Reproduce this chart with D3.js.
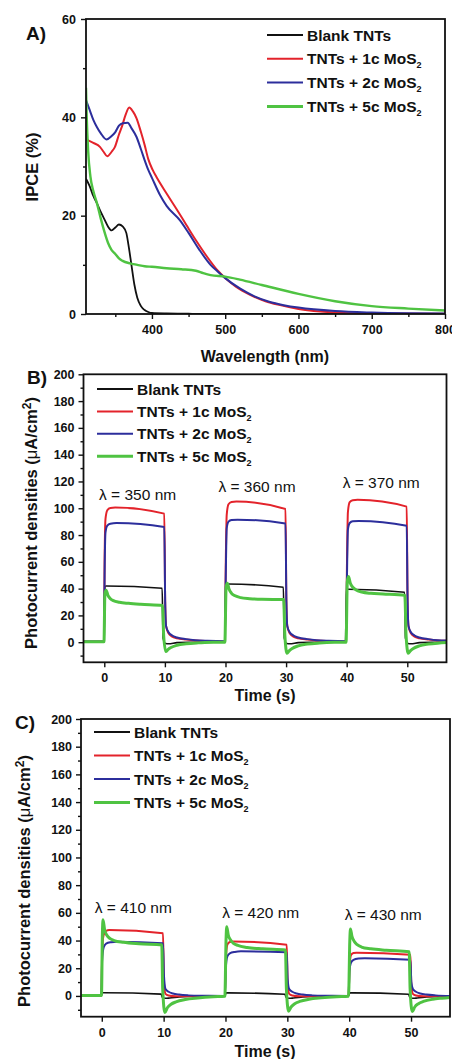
<!DOCTYPE html>
<html>
<head>
<meta charset="utf-8">
<script src="https://cdnjs.cloudflare.com/ajax/libs/d3/7.8.5/d3.min.js"></script>
<style>
  body { margin: 0; background: #fff; }
  svg { display: block; }
  text { font-family: Arial, "Liberation Sans", sans-serif; fill: #111; }
</style>
</head>
<body>
<div id="chart"></div>
<script>
// legend names (subscript 2 added when drawn) and colours
var seriesNames = ["Blank TNTs", "TNTs + 1c MoS", "TNTs + 2c MoS", "TNTs + 5c MoS"];
var seriesColors = ["#111111", "#e3232b", "#2c2e9c", "#4fc342"];

// A) IPCE (%) vs wavelength (nm)
var ipceBlank = [[310,27.5],[315,26],[320,24],[325,22.5],[330,20.8],[335,19.3],[340,17.8],[345,17],[350,17.6],[355,18.2],[360,17.8],[365,16.5],[368,14],[372,10],[376,6],[380,3.3],[385,1.6],[390,0.8],[395,0.4],[400,0.2],[420,0.1],[450,0.05],[500,0],[800,0]];
var ipce1c = [[310,35.5],[320,34.8],[329,34],[334,33],[339,32.1],[345,33],[349.5,34],[355,36.5],[359,38.1],[364,40.5],[369,42],[374,41.2],[379,39.8],[385,37],[390,34.4],[395,31.5],[401,29.3],[406,27.9],[420,24.5],[435,21],[447,18.1],[460,15],[475,11.7],[490,8.8],[500,7.3],[515,5.5],[534,3.9],[555,2.6],[575,1.8],[600,1],[650,0.3],[700,0.1],[800,0.05]];
var ipce2c = [[310,43.5],[315,41.5],[320,39.5],[325,38],[330,36.8],[338,35.5],[345,36.2],[350,37],[355,38.3],[360,38.8],[367,38.9],[372,37.8],[379,36],[385,33.5],[390,31.3],[395,29.3],[400,27.7],[411,24.2],[420,22],[438,19.1],[450,16.5],[465,13],[480,10],[490,8.6],[500,7.3],[520,5.2],[540,3.6],[560,2.5],[580,1.8],[600,1.3],[650,0.6],[700,0.3],[750,0.15],[800,0.1]];
var ipce5c = [[310,46],[311,40],[313,33],[316,28],[320,25],[325,22.5],[330,19.5],[335,16.8],[340,14.5],[345,13],[350,12.2],[355,11.3],[360,10.8],[370,10.3],[380,10],[390,9.7],[400,9.6],[420,9.3],[440,9.1],[460,8.8],[470,8.3],[480,7.9],[500,7.6],[520,7],[550,5.9],[600,4.1],[650,2.6],[700,1.6],[750,1.1],[800,0.7]];

// B) photocurrent (µA/cm2) vs time (s), 350/360/370 nm
var photoB_blank = [[-3.5,0.3],[-0.05,0.3],[0.1,41.5],[0.3,42],[9.55,40.3],[9.7,3],[10.1,-1],[10.6,-1.2],[12,-0.3],[14,0],[19.9,0],[20.05,43.3],[20.3,43.4],[29.55,41],[29.7,3],[30.1,-1],[30.6,-1.2],[32,-0.3],[34,0],[39.8,0],[39.95,39.5],[40.2,39.5],[49.55,37.3],[49.7,3],[50.1,-1],[50.6,-1.2],[52,-0.3],[54,0],[56.5,0]];
var photoB_1c = [[-3.5,0.5],[-0.05,0.5],[0.05,60],[0.2,92],[0.5,98.5],[1,100.2],[1.8,100.5],[9.9,96],[10.05,30],[10.2,12],[10.6,6.7],[11.2,4.2],[12,3],[13.5,2],[15,1.3],[17,0.9],[19.9,0.6],[20.05,60],[20.2,95],[20.5,103],[21,104.6],[21.8,105],[29.9,99.5],[30.05,30],[30.2,12],[30.6,6.7],[31.2,4.2],[32,3],[33.5,2],[35,1.3],[37,0.9],[39.9,0.6],[40.05,60],[40.2,97],[40.5,104.5],[41,106],[41.8,106.3],[49.9,101.2],[50.05,30],[50.2,12],[50.6,6.7],[51.2,4.2],[52,3],[53.5,2],[55,1.3],[56.5,1]];
var photoB_2c = [[-3.5,0.5],[-0.05,0.5],[0.05,50],[0.2,82],[0.5,87],[1,88.4],[2,89],[9.9,86],[10.05,30],[10.2,12],[10.6,7.5],[11.2,5],[12,3.5],[13.5,2.3],[15,1.5],[17,1],[19.9,0.7],[20.05,50],[20.2,85],[20.5,90],[21,91.2],[22,91.5],[29.9,88.6],[30.05,30],[30.2,12],[30.6,7.5],[31.2,5],[32,3.5],[33.5,2.3],[35,1.5],[37,1],[39.9,0.7],[40.05,50],[40.2,84],[40.5,89],[41,90.3],[42,90.5],[49.9,87],[50.05,30],[50.2,12],[50.6,7.5],[51.2,5],[52,3.5],[53.5,2.3],[55,1.5],[56.5,1.2]];
var photoB_5c = [[-3.5,0.3],[-0.05,0.3],[0.1,36],[0.3,38.8],[0.6,35],[1,32.5],[1.5,31],[2.5,29.8],[4,29],[6,28.3],[9.6,27.5],[9.8,5],[10.15,-7],[10.5,-5.5],[11,-4],[12,-2.3],[13.5,-1.2],[15.5,-0.5],[18,-0.1],[19.9,0],[20.1,41],[20.3,44],[20.6,39.5],[21,36.5],[21.5,34.8],[22.5,33.3],[24,32.5],[26,32],[29.6,31.8],[29.8,5],[30.15,-8.2],[30.5,-6.5],[31,-4.7],[32,-2.7],[33.5,-1.4],[35.5,-0.6],[38,-0.1],[39.9,0],[40.1,45],[40.3,49],[40.6,44],[41,41],[41.5,39.2],[42.5,37.5],[44,36.5],[46,36],[49.6,35],[49.8,5],[50.15,-8.2],[50.5,-6.5],[51,-4.7],[52,-2.7],[53.5,-1.4],[55,-0.7],[56.5,-0.3]];
var lambdaB = ["\u03bb = 350 nm", "\u03bb = 360 nm", "\u03bb = 370 nm"];
var lambdaB_t = [5.5, 25.2, 45.7];
var lambdaB_v = [110, 116, 119];

// C) photocurrent (µA/cm2) vs time (s), 410/420/430 nm
var photoC_blank = [[-3.5,0.3],[-0.05,0.3],[0.1,2.3],[0.4,2.3],[9.6,1.3],[9.8,-1],[10.3,-1.7],[11,-1.5],[12.5,-0.8],[15,-0.2],[19.9,0],[20.1,2.2],[20.4,2.2],[29.6,1.2],[29.8,-1],[30.3,-1.7],[31,-1.5],[32.5,-0.8],[35,-0.2],[39.9,0],[40.1,2.2],[40.4,2.2],[49.6,1.2],[49.8,-1],[50.3,-1.7],[51,-1.5],[52.5,-0.8],[55,-0.2],[56.5,0]];
var photoC_1c = [[-3.5,0.3],[-0.05,0.3],[0.05,30],[0.3,44],[0.7,47],[1.2,47.7],[9.9,45.2],[10.05,10],[10.3,1.5],[10.8,0.3],[12,-0.3],[14,-0.3],[17,-0.1],[19.9,0],[20.05,25],[20.3,37],[20.7,39],[21.2,39.3],[29.9,37],[30.05,10],[30.3,1.5],[30.8,0.3],[32,-0.3],[34,-0.3],[37,-0.1],[39.9,0],[40.05,20],[40.3,29.5],[40.7,31],[41.2,31.2],[49.9,29.7],[50.05,8],[50.3,1.5],[50.8,0.3],[52,-0.3],[54,-0.3],[56.5,-0.1]];
var photoC_2c = [[-3.5,0.3],[-0.05,0.3],[0.05,25],[0.3,35],[0.7,37.8],[1.5,38.8],[2.5,39.2],[9.9,38],[10.05,15],[10.3,5],[10.8,3],[11.5,1.8],[12.5,1],[14,0.4],[16,0.1],[19.9,0],[20.05,20],[20.3,28.5],[20.7,30.8],[21.5,31.8],[22.5,32.2],[29.9,31.5],[30.05,12],[30.3,5],[30.8,3],[31.5,1.8],[32.5,1],[34,0.4],[36,0.1],[39.9,0],[40.05,18],[40.3,24],[40.7,26],[41.5,27],[42.5,27.3],[49.9,26.2],[50.05,10],[50.3,5],[50.8,3],[51.5,1.8],[52.5,1],[54,0.4],[56.5,0]];
var photoC_5c = [[-3.5,0.3],[-0.05,0.3],[0.1,45],[0.2,55],[0.45,48],[0.8,44],[1.3,41.5],[2,40],[3.5,38.7],[6,37.7],[9.7,37],[9.85,5],[10.2,-12],[10.6,-8.5],[11.2,-6],[12,-4.3],[13.5,-2.6],[15.5,-1.5],[18,-0.6],[19.9,-0.2],[20.1,42],[20.2,50],[20.45,44],[20.8,40.5],[21.3,38],[22,36.5],[23.5,35],[26,34],[29.7,33.2],[29.85,5],[30.2,-11],[30.6,-8],[31.2,-5.6],[32,-4],[33.5,-2.4],[35.5,-1.4],[38,-0.6],[39.9,-0.2],[40.1,40],[40.2,48.3],[40.45,43],[40.8,39.5],[41.3,37],[42,35.3],[43.5,34],[46,33],[49.7,32],[49.85,5],[50.2,-11.3],[50.6,-8],[51.2,-5.6],[52,-4],[53.5,-2.4],[55,-1.6],[56.5,-1]];
var lambdaC = ["\u03bb = 410 nm", "\u03bb = 420 nm", "\u03bb = 430 nm"];
var lambdaC_t = [5.1, 25.7, 45.5];
var lambdaC_v = [63.5, 60, 58.5];

var wlTicks = [400, 500, 600, 700, 800];
var wlMinor = [350, 450, 550, 650, 750];
var ipceTicks = [0, 20, 40, 60];
var ipceMinor = [10, 30, 50];
var timeTicks = [0, 10, 20, 30, 40, 50];
var photoTicks = [0, 20, 40, 60, 80, 100, 120, 140, 160, 180, 200];
var photoMinor = [-10, 10, 30, 50, 70, 90, 110, 130, 150, 170, 190];

var svg = d3.select("#chart").append("svg")
  .attr("width", 452).attr("height", 1059);

var lineWidths = [1.6, 2, 2, 3];

function drawPanel(p) {
  var x = d3.scaleLinear().domain(p.xDomain).range([p.left, p.right]);
  var y = d3.scaleLinear().domain(p.yDomain).range([p.bottom, p.top]);
  var g = svg.append("g");

  // clip
  g.append("clipPath").attr("id", p.id + "clip")
    .append("rect").attr("x", p.left).attr("y", p.top)
    .attr("width", p.right - p.left).attr("height", p.bottom - p.top);

  // axes
  g.append("g").attr("transform", "translate(0," + p.bottom + ")")
    .call(d3.axisBottom(x).tickValues(p.xTicks).tickSize(5).tickPadding(6).tickFormat(d3.format("d")));
  g.append("g").attr("transform", "translate(0," + p.bottom + ")")
    .call(d3.axisBottom(x).tickValues(p.xMinor).tickSize(3).tickFormat(""));
  g.append("g").attr("transform", "translate(" + p.left + ",0)")
    .call(d3.axisLeft(y).tickValues(p.yTicks).tickSize(5).tickPadding(p.yPad).tickFormat(d3.format("d")));
  g.append("g").attr("transform", "translate(" + p.left + ",0)")
    .call(d3.axisLeft(y).tickValues(p.yMinor).tickSize(3).tickFormat(""));
  g.selectAll(".domain").remove();
  g.selectAll(".tick line").attr("stroke", "#111").attr("stroke-width", 1.4);
  g.selectAll(".tick text").style("font-size", "12.5px").style("font-weight", "bold")
    .style("font-family", "Arial, 'Liberation Sans', sans-serif").attr("fill", "#111");

  // curves
  var line = d3.line().x(function (d) { return x(d[0]); }).y(function (d) { return y(d[1]); })
    .curve(d3.curveMonotoneX);
  var plot = g.append("g").attr("clip-path", "url(#" + p.id + "clip)");
  p.series.forEach(function (s, i) {
    plot.append("path").datum(s).attr("d", line)
      .attr("fill", "none").attr("stroke", seriesColors[i])
      .attr("stroke-width", p.widths[i]).attr("stroke-linejoin", "round");
  });

  // frame
  g.append("rect").attr("x", p.left).attr("y", p.top)
    .attr("width", p.right - p.left).attr("height", p.bottom - p.top)
    .attr("fill", "none").attr("stroke", "#111").attr("stroke-width", 1.8);

  // legend
  seriesNames.forEach(function (name, i) {
    var ly = p.legY + i * p.legStep;
    g.append("line").attr("x1", p.legX).attr("x2", p.legX + 36)
      .attr("y1", ly).attr("y2", ly)
      .attr("stroke", seriesColors[i]).attr("stroke-width", i === 3 ? 3 : 2);
    var t = g.append("text").attr("x", p.legX + 40).attr("y", ly + 5.5)
      .style("font-size", "15.5px").style("font-weight", "bold").text(name);
    if (i > 0) {
      t.append("tspan").attr("dy", 4).style("font-size", "9px").text("2");
    }
  });

  // lambda labels
  if (p.labels) {
    p.labels.forEach(function (lab, i) {
      g.append("text").attr("x", x(p.labelT[i])).attr("y", y(p.labelV[i]) + 5)
        .attr("text-anchor", "middle").style("font-size", "15.5px").text(lab);
    });
  }

  // panel tag
  g.append("text").attr("x", p.tagX).attr("y", p.tagY)
    .style("font-size", "19px").style("font-weight", "bold").text(p.tag);

  // x title
  g.append("text").attr("x", p.xTitleX).attr("y", p.xTitleY)
    .attr("text-anchor", "middle").style("font-size", "16px").style("font-weight", "bold")
    .text(p.xTitle);

  // y title
  var yt = g.append("text")
    .attr("transform", "translate(" + p.yTitleX + "," + p.yTitleY + ") rotate(-90)")
    .attr("text-anchor", "middle").style("font-size", "16.5px").style("font-weight", "bold");
  if (p.photo) {
    yt.append("tspan").text("Photocurrent densities (");
    yt.append("tspan").style("font-weight", "normal").text("\u03bc");
    yt.append("tspan").text("A/cm");
    yt.append("tspan").attr("dy", -6).style("font-size", "12px").text("2");
    yt.append("tspan").attr("dy", 6).text(")");
  } else {
    yt.text(p.yTitle);
  }
}

drawPanel({
  id: "a", tag: "A)", tagX: 26, tagY: 40,
  left: 86, right: 445, top: 19, bottom: 314,
  xDomain: [310, 800], yDomain: [0, 60],
  xTicks: wlTicks, xMinor: wlMinor, yTicks: ipceTicks, yMinor: ipceMinor, yPad: 5,
  series: [ipceBlank, ipce1c, ipce2c, ipce5c], widths: [1.8, 2, 2, 2.4],
  legX: 267, legY: 35, legStep: 23.8,
  xTitle: "Wavelength (nm)", xTitleX: 265, xTitleY: 362,
  yTitle: "IPCE (%)", yTitleX: 38, yTitleY: 167
});

drawPanel({
  id: "b", tag: "B)", tagX: 27, tagY: 384, photo: true,
  left: 83.5, right: 446.5, top: 374.3, bottom: 662.3,
  xDomain: [-3.43, 56.47], yDomain: [-15, 200],
  xTicks: timeTicks, xMinor: [], yTicks: photoTicks, yMinor: photoMinor, yPad: 4,
  series: [photoB_blank, photoB_1c, photoB_2c, photoB_5c], widths: lineWidths,
  legX: 97, legY: 389, legStep: 22.4,
  labels: lambdaB, labelT: lambdaB_t, labelV: lambdaB_v,
  xTitle: "Time (s)", xTitleX: 265, xTitleY: 701,
  yTitleX: 37, yTitleY: 523
});

drawPanel({
  id: "c", tag: "C)", tagX: 15, tagY: 729, photo: true,
  left: 81, right: 450, top: 719, bottom: 1016.7,
  xDomain: [-3.36, 56.3], yDomain: [-15, 200],
  xTicks: timeTicks, xMinor: [], yTicks: photoTicks, yMinor: photoMinor, yPad: 4,
  series: [photoC_blank, photoC_1c, photoC_2c, photoC_5c], widths: lineWidths,
  legX: 94, legY: 732, legStep: 23.5,
  labels: lambdaC, labelT: lambdaC_t, labelV: lambdaC_v,
  xTitle: "Time (s)", xTitleX: 265, xTitleY: 1057,
  yTitleX: 30, yTitleY: 881
});
</script>
</body>
</html>
